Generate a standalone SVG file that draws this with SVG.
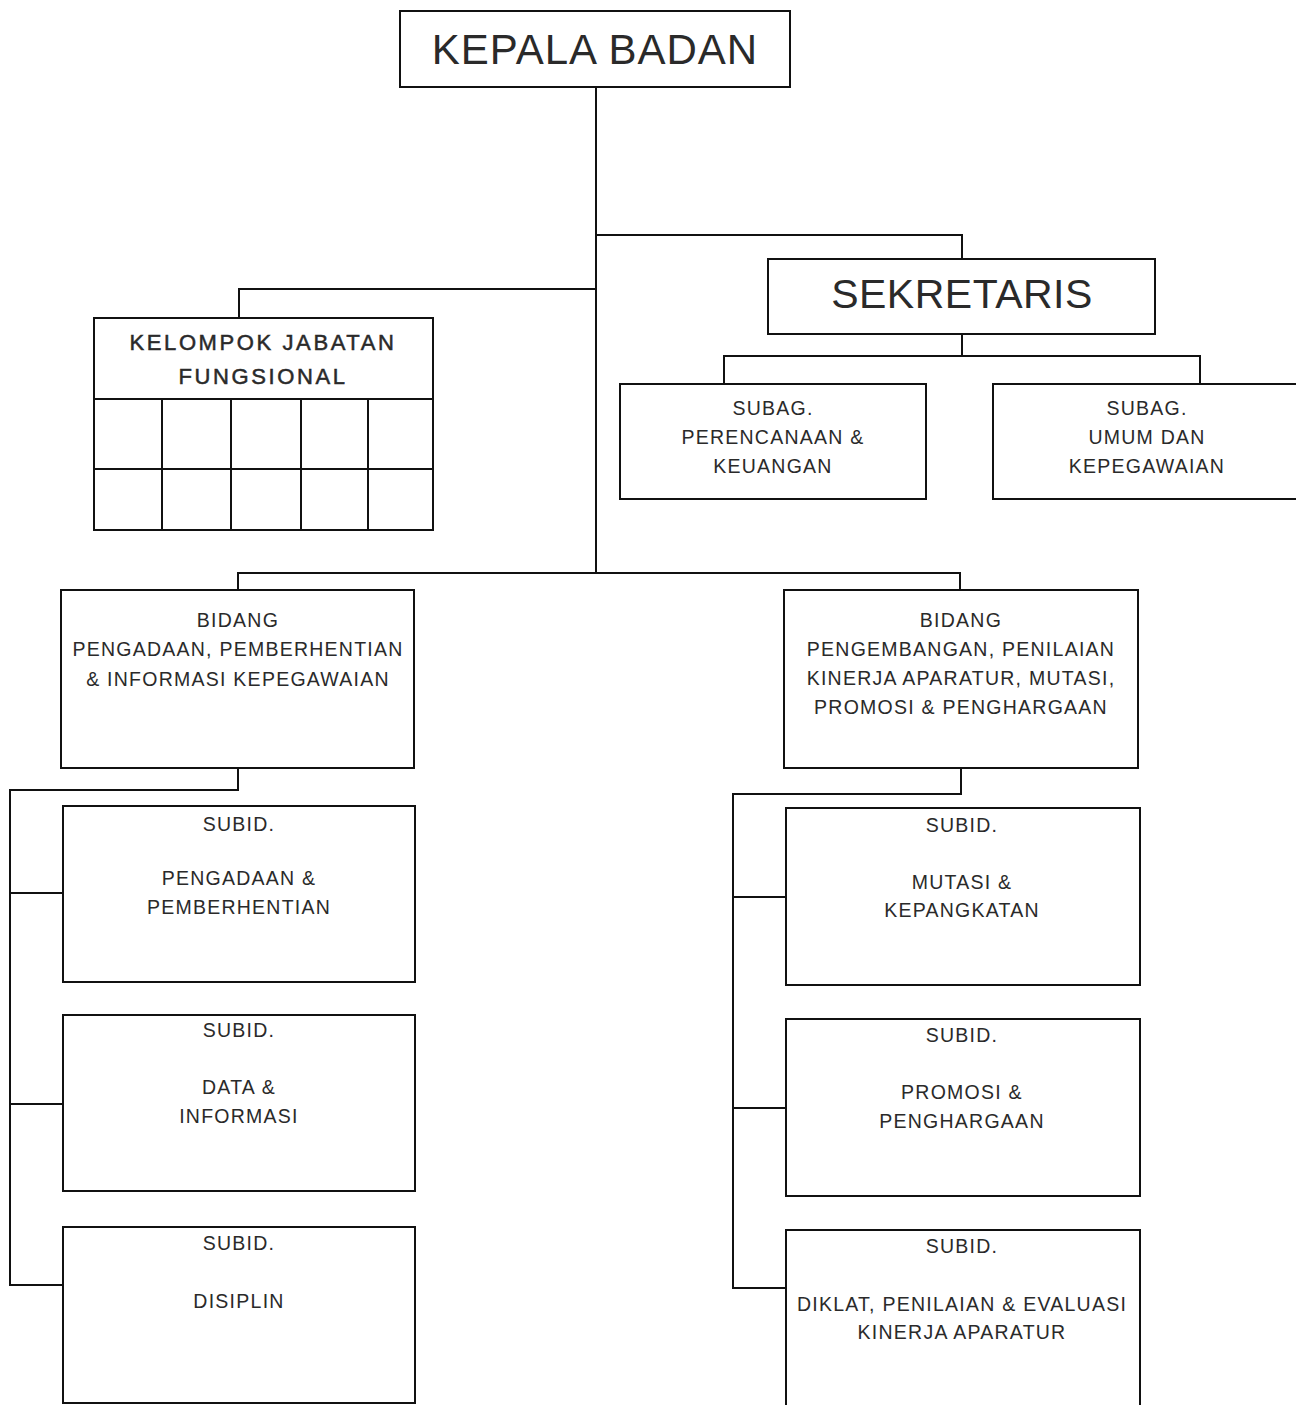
<svg xmlns="http://www.w3.org/2000/svg" width="1296" height="1405" viewBox="0 0 1296 1405">
<style>
.box{fill:#fff;stroke:#111;stroke-width:2}
.ln{fill:none;stroke:#111;stroke-width:2}
text{font-family:"Liberation Sans",Arial,sans-serif;fill:#2a2a2a;text-anchor:middle}
.big{font-size:42px;letter-spacing:1px}
.sek{font-size:41px;letter-spacing:0.5px}
.t{font-size:19.5px;letter-spacing:1.25px}
.tk{font-size:22px;letter-spacing:2.6px;stroke:#2a2a2a;stroke-width:0.5}
</style>
<rect width="1296" height="1405" fill="#fff"/>
<g id="connectors">
<path class="ln" d="M596 87V573"/>
<path class="ln" d="M596 235H962V259"/>
<path class="ln" d="M596 289H239V318"/>
<path class="ln" d="M962 334V356M724 384V356H1200V384"/>
<path class="ln" d="M238 590V573H960V590"/>
<path class="ln" d="M238 768V790H10V1285H63M10 893H63M10 1104H63"/>
<path class="ln" d="M961 768V794H733V1288H786M733 897H786M733 1108H786"/>
</g>
<g id="kepala"><rect class="box" x="400" y="11" width="390" height="76"/><text class="big" x="595" y="64">KEPALA BADAN</text></g>
<g id="sekretaris"><rect class="box" x="768" y="259" width="387" height="75"/><text class="sek" x="962" y="308">SEKRETARIS</text></g>
<g id="subag-perencanaan"><rect class="box" x="620" y="384" width="306" height="115"/>
<text class="t" x="773" y="415">SUBAG.</text><text class="t" x="773" y="444">PERENCANAAN &amp;</text><text class="t" x="773" y="473">KEUANGAN</text></g>
<g id="subag-umum"><rect class="box" x="993" y="384" width="310" height="115"/>
<text class="t" x="1147" y="415">SUBAG.</text><text class="t" x="1147" y="444">UMUM DAN</text><text class="t" x="1147" y="473">KEPEGAWAIAN</text></g>
<g id="kelompok"><rect class="box" x="94" y="318" width="339" height="212"/>
<path class="ln" d="M94 399H433M94 469H433M162 399V530M231 399V530M301 399V530M368 399V530"/>
<text class="tk" x="263" y="350">KELOMPOK JABATAN</text><text class="tk" x="263" y="384">FUNGSIONAL</text></g>
<g id="bidang-pengadaan"><rect class="box" x="61" y="590" width="353" height="178"/>
<text class="t" x="238" y="627">BIDANG</text><text class="t" x="238" y="656">PENGADAAN, PEMBERHENTIAN</text><text class="t" x="238" y="686">&amp; INFORMASI KEPEGAWAIAN</text></g>
<g id="bidang-pengembangan"><rect class="box" x="784" y="590" width="354" height="178"/>
<text class="t" x="961" y="627">BIDANG</text><text class="t" x="961" y="656">PENGEMBANGAN, PENILAIAN</text><text class="t" x="961" y="685">KINERJA APARATUR, MUTASI,</text><text class="t" x="961" y="714">PROMOSI &amp; PENGHARGAAN</text></g>
<g id="subid-pengadaan"><rect class="box" x="63" y="806" width="352" height="176"/>
<text class="t" x="239" y="831">SUBID.</text><text class="t" x="239" y="885">PENGADAAN &amp;</text><text class="t" x="239" y="914">PEMBERHENTIAN</text></g>
<g id="subid-data"><rect class="box" x="63" y="1015" width="352" height="176"/>
<text class="t" x="239" y="1037">SUBID.</text><text class="t" x="239" y="1094">DATA &amp;</text><text class="t" x="239" y="1123">INFORMASI</text></g>
<g id="subid-disiplin"><rect class="box" x="63" y="1227" width="352" height="176"/>
<text class="t" x="239" y="1250">SUBID.</text><text class="t" x="239" y="1308">DISIPLIN</text></g>
<g id="subid-mutasi"><rect class="box" x="786" y="808" width="354" height="177"/>
<text class="t" x="962" y="832">SUBID.</text><text class="t" x="962" y="889">MUTASI &amp;</text><text class="t" x="962" y="917">KEPANGKATAN</text></g>
<g id="subid-promosi"><rect class="box" x="786" y="1019" width="354" height="177"/>
<text class="t" x="962" y="1042">SUBID.</text><text class="t" x="962" y="1099">PROMOSI &amp;</text><text class="t" x="962" y="1128">PENGHARGAAN</text></g>
<g id="subid-diklat"><rect class="box" x="786" y="1230" width="354" height="190"/>
<text class="t" x="962" y="1253">SUBID.</text><text class="t" x="962" y="1311">DIKLAT, PENILAIAN &amp; EVALUASI</text><text class="t" x="962" y="1339">KINERJA APARATUR</text></g>
</svg>
